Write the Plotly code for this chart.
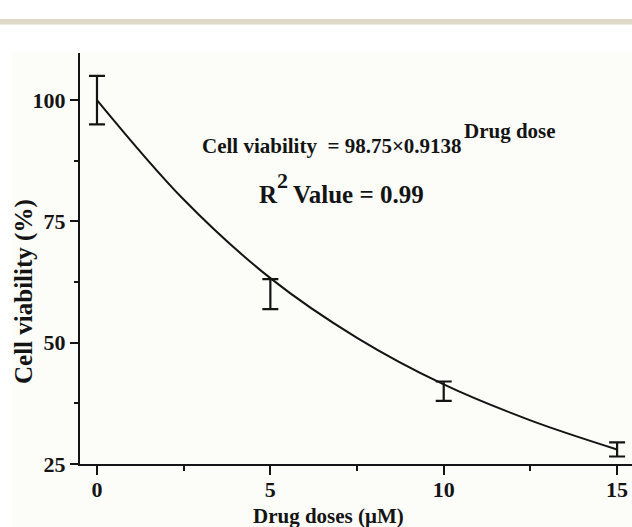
import plotly.graph_objects as go

# ---- data ----
doses = [0, 5, 10, 15]
viability = [100, 60, 40, 28]
viability_err = [5, 3.1, 2, 1.45]

fit_x = [0, 2.5, 5, 7.5, 10, 12.5, 15]
fit_y = [100, 79.5, 63.3, 51.0, 41.4, 34.0, 28.0]

x_ticks = [0, 5, 10, 15]
x_minor = [2.5, 7.5, 12.5]
y_ticks = [25, 50, 75, 100]
y_minor = [37.5, 62.5, 87.5]

W, H = 632, 527
L, R, T, B = 80, 0, 53, 63
PW, PH = W - L - R, H - T - B

def px(xp):
    return (xp - L) / PW

def py(yp):
    return (H - B - yp) / PH

FONT = "Liberation Serif"
INK = "#141414"

fig = go.Figure()

fig.add_trace(go.Scatter(
    x=fit_x, y=fit_y, mode="lines",
    line=dict(color=INK, width=2, shape="spline", smoothing=1.0),
    showlegend=False, hoverinfo="skip"))

fig.add_trace(go.Scatter(
    x=doses, y=viability, mode="markers",
    marker=dict(size=0.1, color=INK, opacity=0),
    error_y=dict(type="data", array=viability_err, visible=True,
                 color=INK, thickness=2.2, width=8),
    showlegend=False))

annotations = [
    dict(text="Cell viability  = 98.75×0.9138", x=px(200), y=py(146),
         xanchor="left", yanchor="middle", font=dict(size=21)),
    dict(text="Drug dose", x=px(462), y=py(131),
         xanchor="left", yanchor="middle", font=dict(size=21)),
    dict(text="R", x=px(257), y=py(194),
         xanchor="left", yanchor="middle", font=dict(size=25)),
    dict(text="2", x=px(275), y=py(180),
         xanchor="left", yanchor="middle", font=dict(size=22)),
    dict(text="Value = 0.99", x=px(291), y=py(194),
         xanchor="left", yanchor="middle", font=dict(size=25)),
    dict(text="Drug doses (μM)", x=px(328), y=py(516),
         xanchor="center", yanchor="middle", font=dict(size=21)),
    dict(text="Cell viability (%)", x=px(24), y=py(292), textangle=-90,
         xanchor="center", yanchor="middle", font=dict(size=25)),
]
for a in annotations:
    a.update(xref="paper", yref="paper", showarrow=False)
    a["font"].update(family=FONT, color=INK, weight="bold")
    fig.add_annotation(**a)

shapes = [
    dict(type="rect", xref="paper", yref="paper",
         x0=px(12), x1=px(W + 5), y0=py(H + 5), y1=py(52),
         fillcolor="#fcfcf9", line=dict(width=0), layer="below"),
    dict(type="rect", xref="paper", yref="paper",
         x0=px(-5), x1=px(W + 5), y0=py(24.5), y1=py(19),
         fillcolor="#ddd8c8", line=dict(width=0), layer="below"),
]
for s in shapes:
    fig.add_shape(**s)

tickfont = dict(family=FONT, size=22, color=INK, weight="bold")

fig.update_xaxes(
    range=[-0.49, 15.43], tickvals=x_ticks, ticktext=[str(v) for v in x_ticks],
    showline=True, linewidth=2, linecolor=INK, mirror=False,
    ticks="outside", ticklen=9, tickwidth=2, tickcolor=INK,
    ticklabelstandoff=-4,
    minor=dict(tickvals=x_minor, ticks="outside", ticklen=5, tickwidth=2,
               tickcolor=INK, showgrid=False),
    showgrid=False, zeroline=False, tickfont=tickfont)

fig.update_yaxes(
    range=[25, 109.7], tickvals=y_ticks, ticktext=[str(v) for v in y_ticks],
    showline=True, linewidth=2, linecolor=INK, mirror=False,
    ticks="outside", ticklen=8, tickwidth=2, tickcolor=INK,
    minor=dict(tickvals=y_minor, ticks="outside", ticklen=4, tickwidth=2,
               tickcolor=INK, showgrid=False),
    showgrid=False, zeroline=False, tickfont=tickfont)

fig.update_layout(
    width=W, height=H,
    margin=dict(l=L, r=R, t=T, b=B, pad=0),
    paper_bgcolor="white", plot_bgcolor="rgba(0,0,0,0)",
    showlegend=False)

fig.write_html("out.html")
